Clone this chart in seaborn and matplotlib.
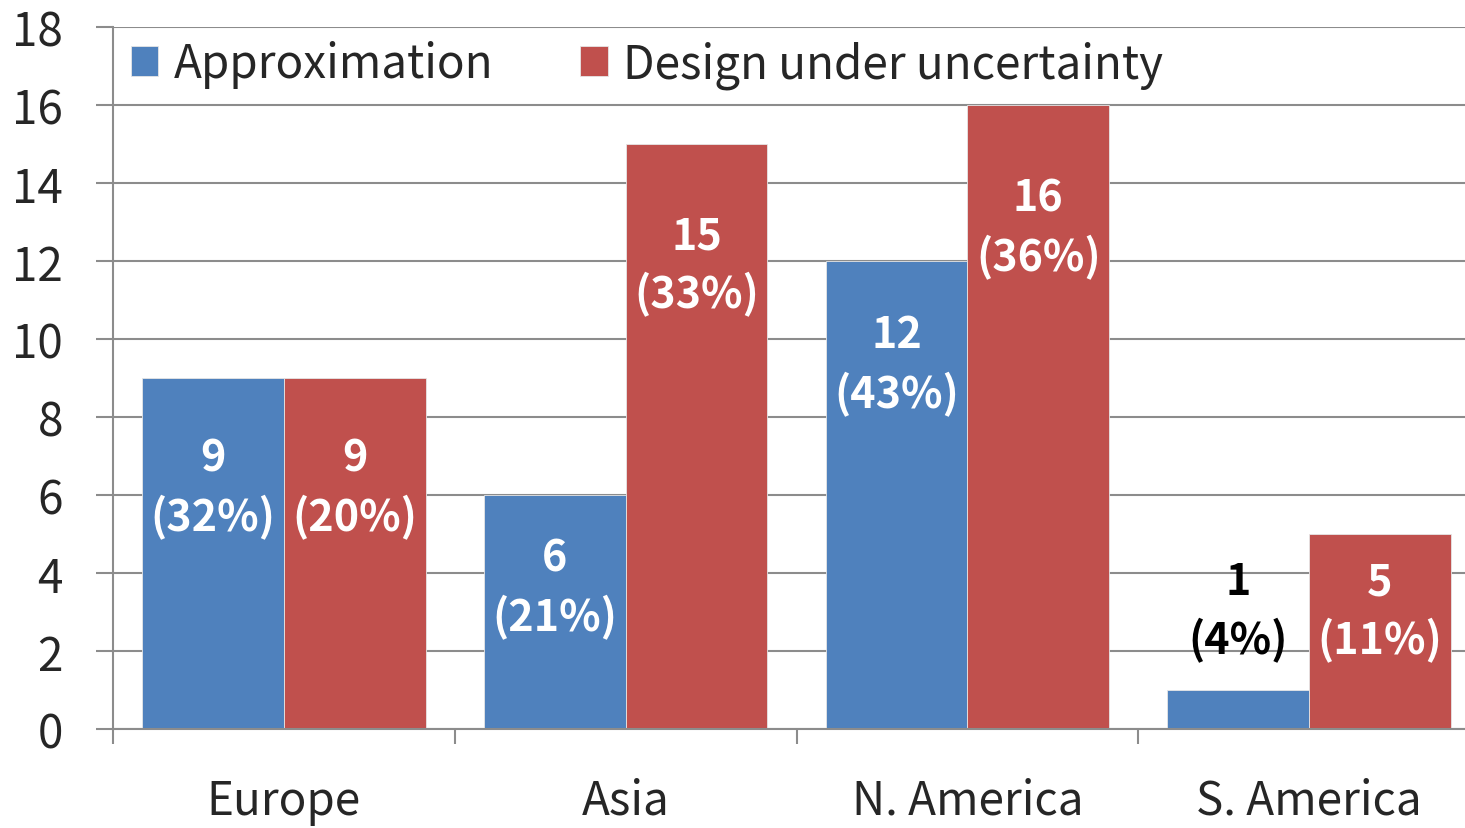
import numpy as np
import pandas as pd
import matplotlib
matplotlib.use("Agg")
import matplotlib.pyplot as plt
import seaborn as sns
from matplotlib.ticker import FixedLocator, NullFormatter

# ---- data ----
categories = ["Europe", "Asia", "N. America", "S. America"]
series_names = ["Approximation", "Design under uncertainty"]
approximation = [9, 6, 12, 1]
design_under_uncertainty = [9, 15, 16, 5]
y_ticks = [0, 2, 4, 6, 8, 10, 12, 14, 16, 18]

# label placement (data units, centre of the two-line label) and colours
label_y_approx = [6.2, 3.64, 9.36, 3.03]
label_y_design = [6.2, 11.9, 12.87, 3.03]
label_color_approx = ["white", "white", "white", "black"]
label_color_design = ["white", "white", "white", "white"]

colors = ["#4F81BD", "#C0504D"]

df = pd.DataFrame({
    "Region": categories * 2,
    "Count": approximation + design_under_uncertainty,
    "Series": [series_names[0]] * 4 + [series_names[1]] * 4,
})

sns.set_style("white")
plt.rcParams["font.family"] = ["Noto Sans CJK KR", "DejaVu Sans"]

W, H = 1465, 829
fig = plt.figure(figsize=(W / 100, H / 100), dpi=100)
ax = fig.add_axes([113 / W, (H - 730) / H, (1480 - 113) / W, 702 / H])

sns.barplot(data=df, x="Region", y="Count", hue="Series", order=categories,
            hue_order=series_names, palette=colors, saturation=1,
            width=0.83, gap=0, edgecolor="#e6e6e6", linewidth=0.6, ax=ax)

ax.set_xlim(-0.5, 3.5)
ax.set_ylim(0, 18)
ax.set_yticks(y_ticks)
ax.set_axisbelow(True)
ax.yaxis.grid(True, color="#8c8c8c", linewidth=1.5)
ax.xaxis.grid(False)

for s in ["top", "right"]:
    ax.spines[s].set_visible(False)
for s in ["left", "bottom"]:
    ax.spines[s].set_color("#8c8c8c")
    ax.spines[s].set_linewidth(1.5)

ax.set_xlabel("")
ax.set_ylabel("")
ax.tick_params(axis="y", direction="out", length=12, width=1.5, color="#8c8c8c",
               labelsize=33, pad=24, left=True)
ax.tick_params(axis="x", which="major", length=0, labelsize=33, pad=34)
ax.xaxis.set_minor_locator(FixedLocator([-0.5, 0.5, 1.5, 2.5]))
ax.xaxis.set_minor_formatter(NullFormatter())
ax.tick_params(axis="x", which="minor", direction="out", length=11, width=1.5,
               color="#8c8c8c", bottom=True)

leg = ax.legend(loc="upper left", bbox_to_anchor=(0.013, 0.982), ncol=2,
                frameon=False, fontsize=33, handlelength=0.6, handleheight=0.6,
                handletextpad=0.33, columnspacing=1.9, borderaxespad=0,
                borderpad=0)

totals = [sum(approximation), sum(design_under_uncertainty)]
vals = [approximation, design_under_uncertainty]
ys = [label_y_approx, label_y_design]
cols = [label_color_approx, label_color_design]
for si, cont in enumerate(ax.containers[:2]):
    for bi, bar in enumerate(cont):
        v = vals[si][bi]
        pct = round(v / totals[si] * 100)
        ax.text(bar.get_x() + bar.get_width() / 2, ys[si][bi],
                f"{v}\n({pct}%)", ha="center", va="center",
                fontsize=31, fontweight="bold", color=cols[si][bi],
                linespacing=1.4)

fig.savefig("out.png", dpi=100)
